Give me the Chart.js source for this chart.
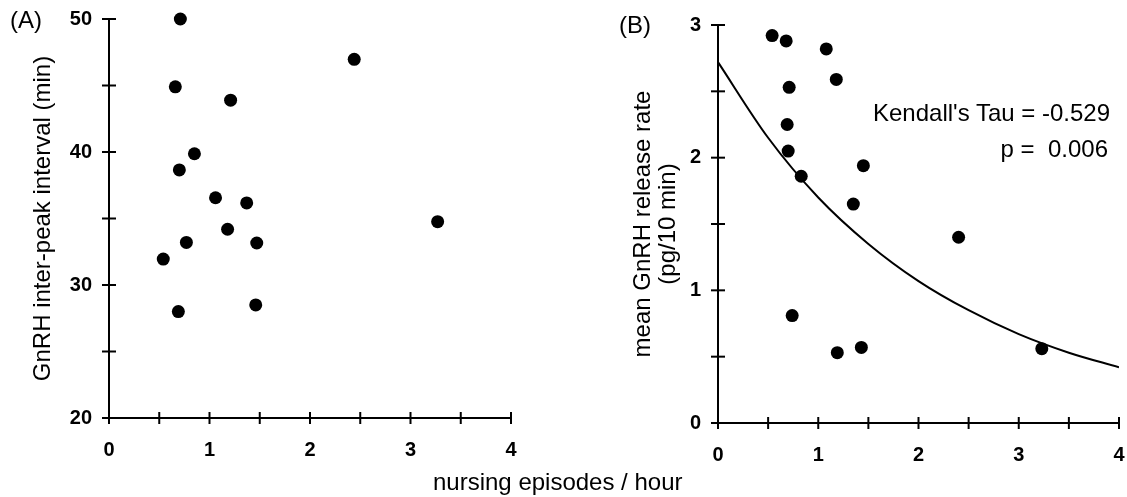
<!DOCTYPE html>
<html>
<head>
<meta charset="utf-8">
<script src="https://cdn.jsdelivr.net/npm/chart.js@4/dist/chart.umd.min.js"></script>
<style>
    body { margin: 0; background: #fff; width: 1127px; height: 497px; position: relative; overflow: hidden; }
    canvas { position: absolute; top: 0; }
    #chartA { left: 0; }
    #chartB { left: 560px; }
    .txt { position: absolute; font-family: 'Liberation Sans', Arial, sans-serif; font-size: 24px; line-height: 24px; color: #000; white-space: pre; }
</style>
</head>
<body>
<canvas id="chartA" width="560" height="497"></canvas>
<canvas id="chartB" width="567" height="497"></canvas>
<div class="txt" style="left:10px; top:8px;">(A)</div>
<div class="txt" style="left:619px; top:13px;">(B)</div>
<div class="txt" style="right:17px; top:101px;">Kendall's Tau = -0.529</div>
<div class="txt" style="right:19px; top:137px;">p =  0.006</div>
<div class="txt" style="left:433px; top:470px;">nursing episodes / hour</div>
<script>
// Panel A: inter-peak interval vs nursing frequency
const nursingA = [0.71, 2.44, 0.66, 1.21, 0.85, 0.70, 1.06, 1.37, 1.18, 0.77, 1.47, 0.54, 0.69, 1.46, 3.27];
const intervalA = [50.0, 46.97, 44.9, 43.9, 39.87, 38.65, 36.56, 36.17, 34.19, 33.2, 33.16, 31.95, 28.0, 28.5, 34.76];

// Panel B: mean release rate vs nursing frequency
const nursingB = [0.54, 0.68, 1.08, 1.18, 0.71, 0.69, 0.70, 0.83, 1.45, 1.35, 2.40, 0.74, 1.19, 1.43, 3.23];
const rateB = [2.92, 2.88, 2.82, 2.59, 2.53, 2.25, 2.05, 1.86, 1.94, 1.65, 1.40, 0.81, 0.53, 0.57, 0.56];

// fitted curve in panel B
const fitX = [0, 0.5, 1, 1.5, 2, 2.5, 3, 3.5, 4];
const fitY = [2.72, 2.15, 1.70, 1.35, 1.07, 0.85, 0.67, 0.53, 0.42];

Chart.defaults.font.family = "'Liberation Sans', Arial, sans-serif";
Chart.defaults.color = '#000';

const pts = (xs, ys) => xs.map((x, i) => ({ x, y: ys[i] }));

// ticks that cross the axis line, like the original figure
const crossTicks = {
    id: 'crossTicks',
    afterDraw(chart) {
        const ctx = chart.ctx;
        const { x, y } = chart.scales;
        const a = chart.chartArea;
        ctx.save();
        ctx.strokeStyle = '#000';
        ctx.lineWidth = 2;
        x.ticks.forEach(t => {
            const px = x.getPixelForValue(t.value);
            ctx.beginPath(); ctx.moveTo(px, a.bottom - 6); ctx.lineTo(px, a.bottom + 6); ctx.stroke();
        });
        y.ticks.forEach(t => {
            const py = y.getPixelForValue(t.value);
            ctx.beginPath(); ctx.moveTo(a.left - 7, py); ctx.lineTo(a.left + 7, py); ctx.stroke();
        });
        ctx.restore();
    }
};

// keep the plot box where the original has it (no extra label padding)
function noPad(s) {
    s.paddingTop = 0; s.paddingBottom = 0;
    s.paddingLeft = 0; s.paddingRight = 0;
}

function xScale(height) {
    return {
        type: 'linear', min: 0, max: 4,
        grid: { display: false, drawTicks: false, tickLength: 0 },
        border: { display: true, color: '#000', width: 2 },
        ticks: {
            stepSize: 0.5, autoSkip: false, maxRotation: 0, padding: 20,
            font: { size: 20, weight: 'bold' },
            callback: v => Number.isInteger(v) ? v : ''
        },
        afterFit: s => { s.height = height; noPad(s); }
    };
}

function yScale(min, max, step, every, width, title, titlePad, lineHeight) {
    return {
        type: 'linear', min, max,
        grid: { display: false, drawTicks: false, tickLength: 0 },
        border: { display: true, color: '#000', width: 2 },
        ticks: {
            stepSize: step, autoSkip: false, padding: 17,
            font: { size: 20, weight: 'bold' },
            callback: v => (v % every === 0) ? v : ''
        },
        title: { display: true, text: title, font: { size: 24, lineHeight }, padding: { top: titlePad, bottom: 0 } },
        afterFit: s => { s.width = width; noPad(s); }
    };
}

const dots = data => ({
    type: 'scatter', data, pointRadius: 6.5, pointHoverRadius: 6.5,
    pointBackgroundColor: '#000', pointBorderWidth: 0, showLine: false, clip: false
});

new Chart(document.getElementById('chartA'), {
    type: 'scatter',
    data: { datasets: [dots(pts(nursingA, intervalA))] },
    options: {
        responsive: false, animation: false,
        layout: { autoPadding: false, padding: { top: 19, right: 49, left: 0, bottom: 0 } },
        plugins: { legend: { display: false }, tooltip: { enabled: false } },
        scales: {
            x: xScale(79),
            y: yScale(20, 50, 5, 10, 109, 'GnRH inter-peak interval (min)', 29, 1.2)
        }
    },
    plugins: [crossTicks]
});

new Chart(document.getElementById('chartB'), {
    type: 'scatter',
    data: {
        datasets: [
            dots(pts(nursingB, rateB)),
            {
                type: 'line', data: pts(fitX, fitY), borderColor: '#000', borderWidth: 2,
                pointRadius: 0, cubicInterpolationMode: 'monotone', fill: false
            }
        ]
    },
    options: {
        responsive: false, animation: false,
        layout: { autoPadding: false, padding: { top: 25, right: 8, left: 0, bottom: 0 } },
        plugins: { legend: { display: false }, tooltip: { enabled: false } },
        scales: {
            x: xScale(74),
            y: yScale(0, 3, 0.5, 1, 158, ['mean GnRH release rate', '(pg/10 min)'], 71, 1.04)
        }
    },
    plugins: [crossTicks]
});
</script>
</body>
</html>
